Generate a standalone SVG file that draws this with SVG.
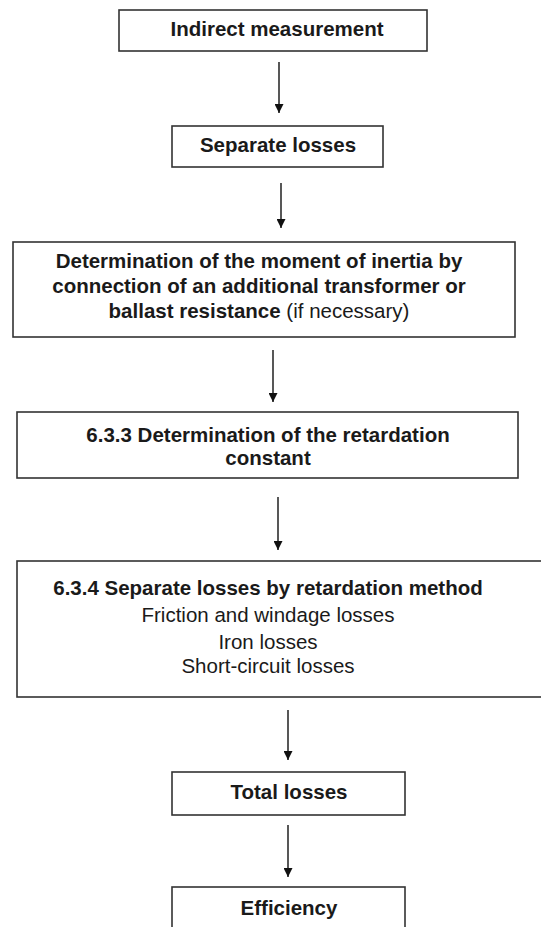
<svg xmlns="http://www.w3.org/2000/svg" width="541" height="927" viewBox="0 0 541 927">
<style>
.box{fill:#fff;stroke:#333;stroke-width:1.6}
text{font-family:"Liberation Sans",Arial,sans-serif;font-size:20.5px;fill:#1a1a1a;text-anchor:middle}
.b{font-weight:bold}
.conn line{stroke:#111;stroke-width:1.4}
</style>
<defs>
<marker id="ah" viewBox="0 0 10 10" refX="10" refY="5" markerWidth="9" markerHeight="9" markerUnits="userSpaceOnUse" orient="auto">
<path d="M0,0 L10,5 L0,10 z" fill="#111"/>
</marker>
</defs>
<rect width="541" height="927" fill="#fff"/>
<g id="n1"><rect class="box" x="119" y="10" width="308" height="41"/><text class="b" x="277" y="36">Indirect measurement</text></g>
<g id="n2"><rect class="box" x="172" y="126" width="211" height="41"/><text class="b" x="278" y="152">Separate losses</text></g>
<g id="n3"><rect class="box" x="13" y="242" width="502" height="95"/>
<text class="b" x="259" y="268">Determination of the moment of inertia by</text>
<text class="b" x="259" y="293">connection of an additional transformer or</text>
<text x="259" y="318"><tspan class="b">ballast resistance</tspan> (if necessary)</text></g>
<g id="n4"><rect class="box" x="17" y="412" width="501" height="66"/>
<text class="b" x="268" y="442">6.3.3 Determination of the retardation</text>
<text class="b" x="268" y="465">constant</text></g>
<g id="n5"><rect class="box" x="17" y="561" width="530" height="136"/>
<text class="b" x="268" y="595">6.3.4 Separate losses by retardation method</text>
<text x="268" y="622">Friction and windage losses</text>
<text x="268" y="649">Iron losses</text>
<text x="268" y="673">Short-circuit losses</text></g>
<g id="n6"><rect class="box" x="172" y="772" width="233" height="43"/><text class="b" x="289" y="799">Total losses</text></g>
<g id="n7"><rect class="box" x="172" y="887" width="233" height="50"/><text class="b" x="289" y="915">Efficiency</text></g>
<g class="conn">
<line x1="279" y1="62" x2="279" y2="113" marker-end="url(#ah)"/>
<line x1="281" y1="183" x2="281" y2="228" marker-end="url(#ah)"/>
<line x1="273" y1="350" x2="273" y2="402" marker-end="url(#ah)"/>
<line x1="278" y1="497" x2="278" y2="550" marker-end="url(#ah)"/>
<line x1="288" y1="710" x2="288" y2="760" marker-end="url(#ah)"/>
<line x1="288" y1="825" x2="288" y2="877" marker-end="url(#ah)"/>
</g>
</svg>
